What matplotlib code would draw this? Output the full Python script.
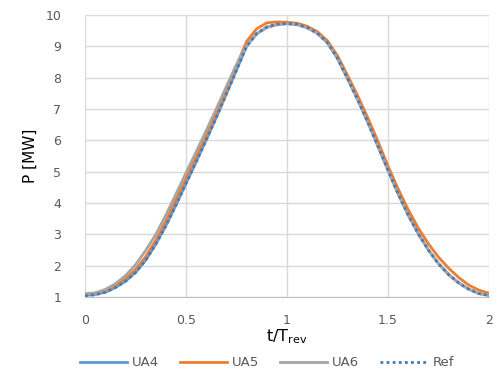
import numpy as np
import matplotlib
matplotlib.use("Agg")
import matplotlib.pyplot as plt

# t / T_rev sampling of the read-off curves
t = [0.00, 0.05, 0.10, 0.15, 0.20, 0.25, 0.30, 0.35, 0.40, 0.45,
     0.50, 0.55, 0.60, 0.65, 0.70, 0.75, 0.80, 0.85, 0.90, 0.95,
     1.00, 1.05, 1.10, 1.15, 1.20, 1.25, 1.30, 1.35, 1.40, 1.45,
     1.50, 1.55, 1.60, 1.65, 1.70, 1.75, 1.80, 1.85, 1.90, 1.95, 2.00]

ua4 = [1.05, 1.08, 1.15, 1.30, 1.50, 1.78, 2.17, 2.68, 3.27, 3.93,
       4.62, 5.31, 6.01, 6.73, 7.48, 8.24, 9.00, 9.40, 9.61, 9.70,
       9.73, 9.70, 9.60, 9.42, 9.12, 8.62, 7.97, 7.30, 6.58, 5.82,
       5.05, 4.30, 3.62, 3.02, 2.50, 2.07, 1.72, 1.45, 1.25, 1.11, 1.05]

ua5 = [1.10, 1.12, 1.20, 1.36, 1.58, 1.88, 2.28, 2.80, 3.42, 4.10,
       4.79, 5.46, 6.14, 6.85, 7.59, 8.38, 9.16, 9.56, 9.75, 9.78,
       9.77, 9.74, 9.64, 9.47, 9.18, 8.70, 8.07, 7.42, 6.72, 5.97,
       5.18, 4.45, 3.79, 3.20, 2.70, 2.27, 1.92, 1.62, 1.38, 1.22, 1.12]

ua6 = [1.10, 1.13, 1.24, 1.42, 1.68, 2.03, 2.48, 2.99, 3.61, 4.28,
       4.96, 5.63, 6.31, 7.00, 7.72, 8.42, 9.03, 9.40, 9.60, 9.69,
       9.72, 9.69, 9.59, 9.41, 9.11, 8.61, 7.96, 7.29, 6.57, 5.81,
       5.04, 4.29, 3.61, 3.01, 2.50, 2.06, 1.71, 1.45, 1.25, 1.11, 1.06]

ref = [1.04, 1.07, 1.15, 1.30, 1.50, 1.78, 2.17, 2.68, 3.27, 3.93,
       4.62, 5.31, 6.01, 6.73, 7.48, 8.24, 9.00, 9.41, 9.62, 9.70,
       9.73, 9.70, 9.60, 9.42, 9.12, 8.62, 7.97, 7.30, 6.58, 5.82,
       5.05, 4.30, 3.62, 3.02, 2.50, 2.06, 1.72, 1.45, 1.25, 1.11, 1.05]

xticks = [0, 0.5, 1, 1.5, 2]
xtick_labels = ["0", "0.5", "1", "1.5", "2"]
yticks = [1, 2, 3, 4, 5, 6, 7, 8, 9, 10]

W, H = 497, 376
fig = plt.figure(figsize=(W / 100, H / 100), dpi=100)
ax = fig.add_axes([85 / W, 1 - 297 / H, 404 / W, 282 / H])

ax.plot(t, ua4, color="#5B9BD5", lw=2.0, label="UA4")
ax.plot(t, ua5, color="#ED7D31", lw=2.0, label="UA5")
ax.plot(t, ua6, color="#A5A5A5", lw=2.0, label="UA6")
ax.plot(t, ref, color="#4A78B0", lw=2.0, ls=(0, (1, 1.2)), label="Ref")

ax.set_xlim(0, 2)
ax.set_ylim(1, 10)
ax.set_xticks(xticks)
ax.set_xticklabels(xtick_labels)
ax.set_yticks(yticks)
ax.grid(True, color="#D9D9D9", lw=1.0)
ax.set_axisbelow(True)
for s in ["top", "right", "left"]:
    ax.spines[s].set_visible(False)
ax.spines["bottom"].set_color("#BFBFBF")
ax.tick_params(length=0, labelsize=9, labelcolor="#595959")
ax.tick_params(axis="y", pad=17)
ax.tick_params(axis="x", pad=12)

fig.text(30 / W, 1 - 156 / H, "P [MW]", rotation=90, fontsize=11,
         ha="center", va="center")
fig.text(287 / W, 1 - 337 / H, r"t/T$_\mathregular{rev}$", fontsize=11.5,
         ha="center", va="center")

fig.legend(loc="center left", bbox_to_anchor=(80 / W, 1 - 363 / H), ncol=4,
           frameon=False, fontsize=9.5, handlelength=3.55, columnspacing=1.6,
           handletextpad=0.38, borderpad=0, borderaxespad=0, labelcolor="#595959")

fig.savefig("out.png", dpi=100)
